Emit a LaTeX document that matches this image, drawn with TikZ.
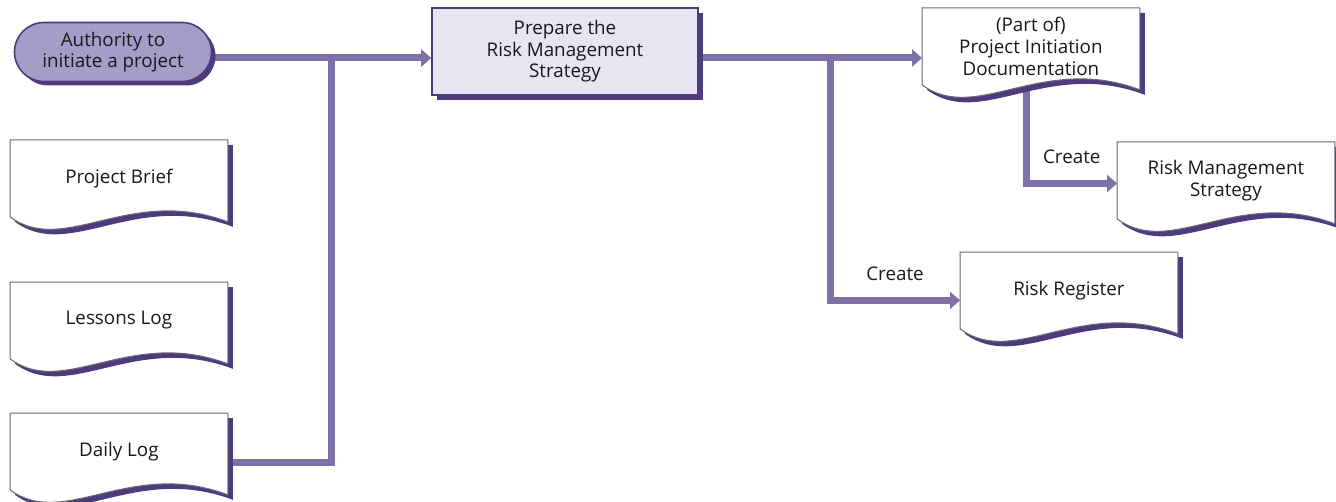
\documentclass[tikz,border=0pt]{standalone}
\usepackage{fontspec}
\setmainfont{Open Sans}
\usepackage{xcolor}
\usetikzlibrary{arrows.meta,calc,shadows,shapes.misc}

\definecolor{wire}{HTML}{7D71A8}
\definecolor{deeppurple}{HTML}{4C3C7D}
\definecolor{pillfill}{HTML}{A59CC8}
\definecolor{stepfill}{HTML}{E7E5F1}
\definecolor{edgegray}{HTML}{6A6A74}

\pgfdeclarelayer{wires}
\pgfdeclarelayer{background}
\pgfsetlayers{wires,background,main}

% outline of a document sheet, shifted by #2 (right and down)
\newcommand{\docoutline}[2]{%
  ($(#1.north west)+(#2,#2)$) -- ($(#1.north east)+(#2,#2)$)
  -- ($(#1.south east)+(#2,#2+5)$)
  .. controls ($(#1.south west)!0.55!(#1.south east)+(#2,#2-32)$)
  and ($(#1.south west)!0.25!(#1.south east)+(#2,#2+40)$)
  .. ($(#1.south west)+(#2,#2)$) -- cycle}

% document node: name, top left corner, text
\newcommand{\docnode}[3]{%
  \node[docbox, anchor=north west] (#1) at (#2) {#3};
  \begin{pgfonlayer}{background}
    \fill[deeppurple] \docoutline{#1}{5};
    \filldraw[fill=white, draw=edgegray, line width=0.5pt] \docoutline{#1}{0};
  \end{pgfonlayer}}

\begin{document}
\begin{tikzpicture}[x=0.5pt,y=-0.5pt,
    every node/.style={font=\fontsize{9.4}{10.8}\selectfont, text=black!90},
    docbox/.style={minimum width=108.5pt, minimum height=38pt, inner sep=0pt, align=center},
    trigger/.style={rounded rectangle, minimum width=98.5pt, minimum height=29.5pt,
      inner sep=0pt, align=center, fill=pillfill, draw=deeppurple, line width=0.8pt,
      drop shadow={shadow xshift=2pt, shadow yshift=-2pt, fill=deeppurple, opacity=1}},
    activity/.style={rectangle, minimum width=133pt, minimum height=43.5pt,
      inner sep=0pt, align=center, fill=stepfill, draw=deeppurple, line width=0.8pt,
      drop shadow={shadow xshift=2.5pt, shadow yshift=-2.5pt, fill=deeppurple, opacity=1}},
    flow/.style={draw=wire, line width=3.5pt},
    flowarrow/.style={flow, -{Triangle[length=5pt,width=8.5pt]}}]
  \useasboundingbox (0,0) rectangle (1336,502);

  % trigger and activity
  \node[trigger] (auth) at (113,52) {Authority to\\initiate a project};
  \node[activity] (prep) at (565,51.5) {Prepare the\\Risk Management\\Strategy};

  % inputs
  \docnode{brief}{10,140}{Project Brief}
  \docnode{lessons}{10,282}{Lessons Log}
  \docnode{daily}{10,413}{Daily Log}

  % outputs
  \docnode{pid}{922,8}{(Part of)\\Project Initiation\\Documentation}
  \docnode{rms}{1117,142}{Risk Management\\Strategy}
  \docnode{register}{960,252}{Risk Register}

  \begin{pgfonlayer}{wires}
    % inputs into the activity
    \coordinate (split) at (331,58);
    \draw[flowarrow] (auth.east |- split) -- (prep.west |- split);
    \draw[flow] ($(brief.north east)!0.64!(brief.south east)$) -- ($(brief.north east)!0.64!(brief.south east)$ -| split);
    \draw[flow] ($(lessons.north east)!0.64!(lessons.south east)$) -- ($(lessons.north east)!0.64!(lessons.south east)$ -| split);
    \draw[flow] ($(daily.north east)!0.64!(daily.south east)$) -| (split);

    % outputs of the activity
    \coordinate (fork) at (830,58);
    \draw[flowarrow] (prep.east |- fork) -- (pid.west |- fork);
    \draw[flowarrow] (fork) |- ($(register.north west)!0.63!(register.south west)$)
      node[pos=0.75, above=5pt] {Create};
    \draw[flowarrow] ($(pid.south west)!0.48!(pid.south east)$) |- ($(rms.north west)!0.54!(rms.south west)$)
      node[pos=0.75, above=5pt] {Create};
  \end{pgfonlayer}
\end{tikzpicture}
\end{document}
